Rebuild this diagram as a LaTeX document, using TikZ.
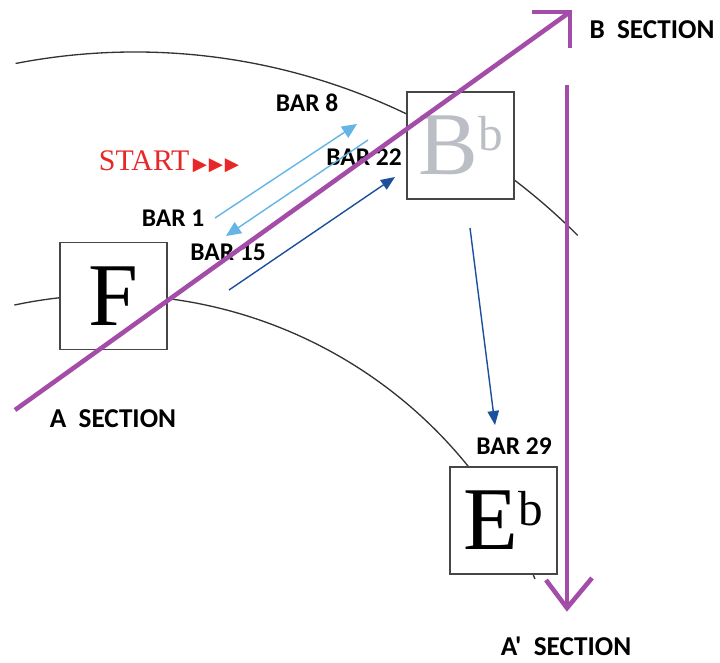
\documentclass[tikz,border=0pt]{standalone}
\usepackage{fontspec}
\setmainfont{Liberation Serif}
\newfontfamily\calib{Carlito}
\newfontfamily\dejavu{DejaVu Sans}
\usetikzlibrary{arrows.meta}
\definecolor{secpurple}{RGB}{163,77,168}
\definecolor{barlight}{RGB}{100,180,230}
\definecolor{bardark}{RGB}{28,79,158}
\definecolor{startred}{RGB}{232,40,40}
\definecolor{boxgray}{RGB}{70,70,70}
\definecolor{flatgray}{RGB}{188,190,198}
\newcommand{\flatsup}[1]{\raisebox{14pt}{\fontsize{28}{28}\selectfont #1}}

\begin{document}
\begin{tikzpicture}[
  x=0.2mm, y=0.2mm,
  every node/.style={font=\calib\bfseries\fontsize{14.5}{16}\selectfont},
  chord/.style={draw=boxgray, fill=white, line width=0.7pt, minimum size=21.4mm, inner sep=0pt, font=\fontsize{51}{51}\selectfont},
  seclbl/.style={font=\calib\bfseries\fontsize{15.5}{17}\selectfont},
  circle5/.style={draw=black!80, line width=0.75pt},
  secline/.style={draw=secpurple, line width=2.6pt},
  lightbar/.style={draw=barlight, line width=0.8pt, -{Triangle[length=8.5pt,width=7.5pt]}},
  darkbar/.style={draw=bardark, line width=0.8pt, -{Triangle[length=8pt,width=6.5pt]}},
]
\useasboundingbox (0,0) rectangle (720,662);

\draw[circle5] (135,-16) ++(101:626) arc[start angle=101, end angle=45, radius=626];
\draw[circle5] (110,-93) ++(102:460) arc[start angle=102, end angle=22.5, radius=460];

\node[chord] (F) at (113.5,366) {F};
\node[chord, text=flatgray] (Bb) at (460.5,516.5) {B\flatsup{b}};
\node[chord] (Eb) at (503.5,141.5) {E\flatsup{b}};

\node (bar8) at (307,559) {BAR 8};
\node (bar22) at (364,505) {BAR 22};
\node (bar1) at (173,444) {BAR 1};
\node (bar15) at (228,410) {BAR 15};
\node (bar29) at (514,216) {BAR 29};
\node[font=\fontsize{17}{19}\selectfont, text=startred, inner sep=0pt] (start) at (169,500)
  {START\kern2pt{\dejavu\fontsize{10.5}{11}\selectfont ▶\kern1pt▶\kern1pt▶}};

\coordinate (b8s) at (215,444);
\coordinate (b8e) at (357,538);
\coordinate (b15s) at (368,522);
\coordinate (b15e) at (226,426);
\coordinate (b22s) at (229,372);
\coordinate (b22e) at (395,485);
\coordinate (b29s) at (470,434);
\coordinate (b29e) at (495,237);
\draw[lightbar] (b8s) -- (b8e);
\draw[lightbar] (b15s) -- (b15e);
\draw[darkbar] (b22s) -- (b22e);
\draw[darkbar] (b29s) -- (b29e);

\coordinate (atail) at (15,252);
\coordinate (btip) at (570,650);
\draw[secline] (atail) -- (btip);
\draw[secline] (532,650) -- (btip) -- (570,614);
\coordinate (vtop) at (567,577);
\coordinate (vtip) at (567,54);
\draw[secline] (vtop) -- (vtip);
\draw[secline] (546,82) -- (vtip) -- (592,84);

\node[seclbl] (bsec) at (652,632) {B\ \ SECTION};
\node[seclbl] (asec) at (113,243) {A\ \ SECTION};
\node[seclbl] (a2sec) at (566,16) {A'\ \ SECTION};
\end{tikzpicture}
\end{document}
